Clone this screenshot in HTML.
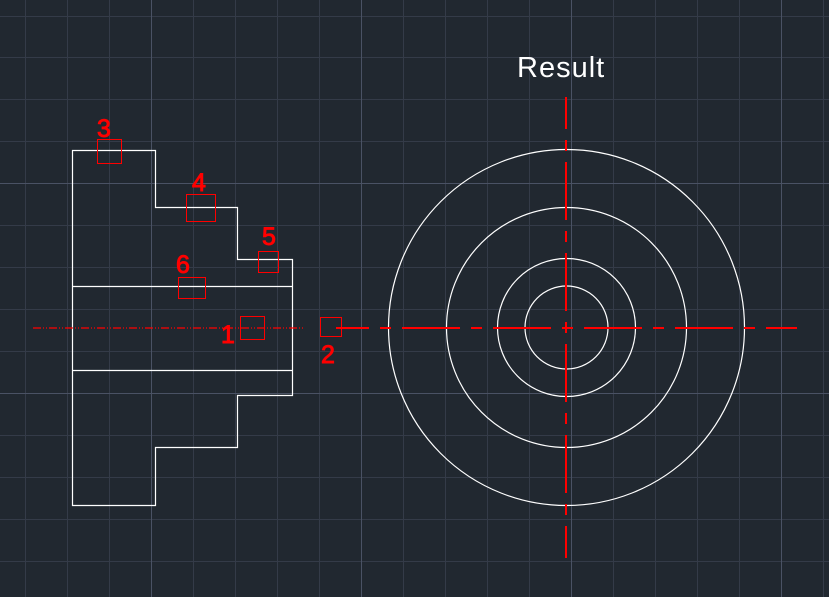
<!DOCTYPE html>
<html><head><meta charset="utf-8"><style>
html,body{margin:0;padding:0;background:#212830;}
svg{display:block}
text{font-family:"Liberation Sans","DejaVu Sans",sans-serif}
</style></head><body>
<svg width="829" height="597" viewBox="0 0 829 597" xmlns="http://www.w3.org/2000/svg">
<rect width="829" height="597" fill="#212830"/>
<g stroke="#343b48" stroke-width="1">
<line x1="25.5" y1="0" x2="25.5" y2="597"/><line x1="67.5" y1="0" x2="67.5" y2="597"/><line x1="109.5" y1="0" x2="109.5" y2="597"/>
<line x1="193.5" y1="0" x2="193.5" y2="597"/><line x1="235.5" y1="0" x2="235.5" y2="597"/><line x1="277.5" y1="0" x2="277.5" y2="597"/><line x1="319.5" y1="0" x2="319.5" y2="597"/>
<line x1="403.5" y1="0" x2="403.5" y2="597"/><line x1="445.5" y1="0" x2="445.5" y2="597"/><line x1="487.5" y1="0" x2="487.5" y2="597"/><line x1="529.5" y1="0" x2="529.5" y2="597"/>
<line x1="613.5" y1="0" x2="613.5" y2="597"/><line x1="655.5" y1="0" x2="655.5" y2="597"/><line x1="697.5" y1="0" x2="697.5" y2="597"/><line x1="739.5" y1="0" x2="739.5" y2="597"/><line x1="823.5" y1="0" x2="823.5" y2="597"/>
<line x1="0" y1="16.5" x2="829" y2="16.5"/><line x1="0" y1="57.5" x2="829" y2="57.5"/><line x1="0" y1="99.5" x2="829" y2="99.5"/><line x1="0" y1="141.5" x2="829" y2="141.5"/>
<line x1="0" y1="225.5" x2="829" y2="225.5"/><line x1="0" y1="267.5" x2="829" y2="267.5"/><line x1="0" y1="309.5" x2="829" y2="309.5"/><line x1="0" y1="351.5" x2="829" y2="351.5"/>
<line x1="0" y1="435.5" x2="829" y2="435.5"/><line x1="0" y1="477.5" x2="829" y2="477.5"/><line x1="0" y1="519.5" x2="829" y2="519.5"/><line x1="0" y1="561.5" x2="829" y2="561.5"/>
</g>
<g stroke="#4a5264" stroke-width="1">
<line x1="151.5" y1="0" x2="151.5" y2="597"/><line x1="361.5" y1="0" x2="361.5" y2="597"/><line x1="571.5" y1="0" x2="571.5" y2="597"/><line x1="781.5" y1="0" x2="781.5" y2="597"/>
<line x1="0" y1="183.5" x2="829" y2="183.5"/><line x1="0" y1="393.5" x2="829" y2="393.5"/>
</g>
<text x="517" y="77" fill="#ffffff" font-size="29" letter-spacing="1">Result</text>
<g fill="none" stroke="#ffffff" stroke-width="1.2">
<path d="M72.5 150.5 H155.5 V207.5 H237.5 V259.5 H292.5 V395.5 H237.5 V447.5 H155.5 V505.5 H72.5 Z"/>
<line x1="72.5" y1="286.5" x2="292.5" y2="286.5"/>
<line x1="72.5" y1="370.5" x2="292.5" y2="370.5"/>
<circle cx="566.5" cy="327.5" r="178"/>
<circle cx="566.5" cy="327.5" r="120"/>
<circle cx="566.5" cy="327.5" r="69"/>
<circle cx="566.5" cy="327.5" r="41.5"/>
</g>
<g stroke="#ff0000" stroke-width="1.5" fill="none">
<line x1="33" y1="328" x2="303" y2="328" stroke-dasharray="8 2 1 2 1 2" stroke-width="1.2"/>
<line x1="336" y1="328" x2="797" y2="328" stroke-dasharray="58 11 11 11" stroke-dashoffset="25" stroke-width="2"/>
<line x1="566" y1="97" x2="566" y2="558" stroke-dasharray="58 11 11 11" stroke-dashoffset="26" stroke-width="2"/>
</g>
<g stroke="#ff0000" stroke-width="1" fill="none">
<rect x="97.5" y="139.5" width="24" height="24"/>
<rect x="186.5" y="194.5" width="29" height="27"/>
<rect x="258.5" y="251.5" width="20" height="21"/>
<rect x="178.5" y="277.5" width="27" height="21"/>
<rect x="240.5" y="316.5" width="24" height="23"/>
<rect x="320.5" y="317.5" width="21" height="19"/>
</g>
<g fill="#ff0000" stroke="#ff0000" stroke-width="0.9" font-size="25">
<text x="97" y="137">3</text>
<text x="192" y="191">4</text>
<text x="262" y="245">5</text>
<text x="176" y="273">6</text>
<text x="221" y="343">1</text>
<text x="321" y="363">2</text>
</g>
</svg>
</body></html>
